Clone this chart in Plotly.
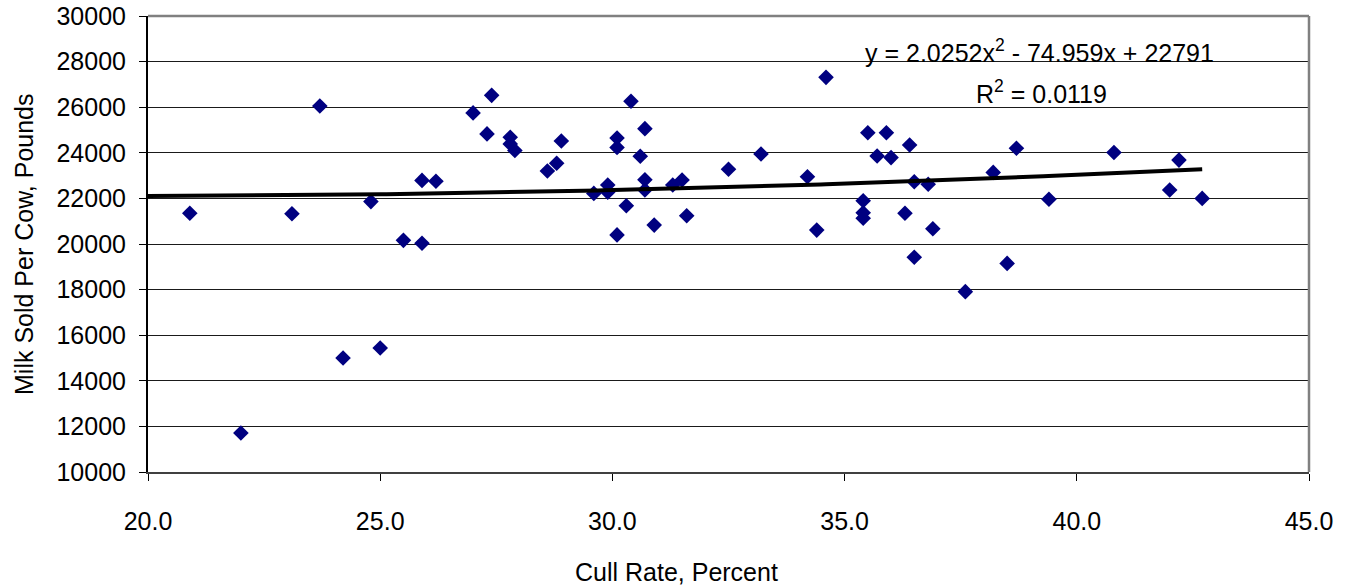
import numpy as np
import plotly.graph_objects as go

# Herd data: cull rate (%) and milk sold per cow (lb)
cull_rate = [20.9, 22.0, 23.1, 23.7, 24.2, 24.8, 25.0, 25.5, 25.9, 25.9,
             26.2, 27.0, 27.4, 27.3, 27.8, 27.8, 27.9, 28.6, 28.8, 28.9,
             29.6, 29.9, 29.9, 30.1, 30.1, 30.1, 30.3, 30.4, 30.6, 30.7,
             30.7, 30.7, 30.9, 31.3, 31.5, 31.6, 32.5, 33.2, 34.2, 34.4,
             34.6, 35.5, 35.4, 35.4, 35.4, 35.7, 35.9, 36.0, 36.3, 36.4,
             36.5, 36.5, 36.8, 36.9, 37.6, 38.2, 38.5, 38.7, 39.4, 40.8,
             42.0, 42.2, 42.7]
milk_sold = [21350, 11710, 21330, 26050, 15000, 21860, 15440, 20160, 20030, 22790,
             22750, 25750, 26520, 24830, 24680, 24390, 24100, 23200, 23540, 24520,
             22220, 22590, 22270, 20400, 24650, 24230, 21680, 26260, 23850, 25060,
             22820, 22370, 20830, 22590, 22810, 21240, 23280, 23950, 22950, 20610,
             27310, 24880, 21900, 21370, 21130, 23860, 24880, 23790, 21350, 24340,
             22730, 19420, 22620, 20670, 17910, 23140, 19150, 24200, 21960, 24010,
             22370, 23680, 22000]

# Second-order polynomial trendline coefficients and fit statistic
trend_coef = [2.0252, -74.959, 22791]
r_squared = 0.0119
trend_range = [20.0, 42.7]

x_ticks = [20, 25, 30, 35, 40, 45]
y_ticks = list(range(10000, 30001, 2000))

FONT = "Liberation Sans, Arial, sans-serif"
FS = 25

W, H = 1353, 586
ML, MR, MT, MB = 148, 44, 16, 114
PW, PH = W - ML - MR, H - MT - MB

tx = np.linspace(trend_range[0], trend_range[1], 200)
ty = np.polyval(trend_coef, tx)

fig = go.Figure()
fig.add_trace(go.Scatter(
    x=cull_rate, y=milk_sold, mode="markers",
    marker=dict(symbol="diamond", size=12, color="#000080", line=dict(width=0)),
    showlegend=False, hoverinfo="x+y",
))
fig.add_trace(go.Scatter(
    x=tx, y=ty, mode="lines",
    line=dict(color="black", width=4),
    showlegend=False, hoverinfo="skip",
))

fig.update_layout(
    width=W, height=H,
    margin=dict(l=ML, r=MR, t=MT, b=MB, autoexpand=False),
    paper_bgcolor="white", plot_bgcolor="white",
    font=dict(family=FONT, size=FS, color="black"),
    xaxis=dict(
        range=[20, 45], tickvals=x_ticks,
        ticktext=[f"{v:.1f}" for v in x_ticks],
        ticks="outside", ticklen=7, tickcolor="black", tickwidth=1,
        showline=True, linecolor="#404040", linewidth=2,
        showgrid=False, zeroline=False, ticklabelstandoff=19,
        automargin=False, tickfont=dict(size=FS),
    ),
    yaxis=dict(
        range=[10000, 30000], tickvals=y_ticks,
        ticktext=[str(v) for v in y_ticks],
        ticks="outside", ticklen=7, tickcolor="black", tickwidth=1,
        showline=True, linecolor="black", linewidth=2,
        showgrid=True, gridcolor="#1a1a1a", gridwidth=1.3,
        zeroline=False, ticklabelstandoff=8,
        automargin=False, tickfont=dict(size=FS),
    ),
    shapes=[
        # grey frame along the top and right of the plot area
        dict(type="line", xref="paper", yref="paper", x0=0, x1=1, y0=1, y1=1,
             line=dict(color="#808080", width=2.5)),
        dict(type="line", xref="paper", yref="paper", x0=1, x1=1, y0=0, y1=1,
             line=dict(color="#808080", width=2.5)),
    ],
    annotations=[
        dict(text="Cull Rate, Percent", xref="paper", yref="paper",
             x=(676 - ML) / PW, y=-(572 - (H - MB)) / PH,
             xanchor="center", yanchor="middle", showarrow=False,
             font=dict(size=FS)),
        dict(text="Milk Sold Per Cow, Pounds", xref="paper", yref="paper",
             x=-(ML - 24) / PW, y=0.5, textangle=-90,
             xanchor="center", yanchor="middle", showarrow=False,
             font=dict(size=FS)),
        dict(text="y = %.4fx<sup>2</sup> - %.3fx + %d" % (trend_coef[0], -trend_coef[1], trend_coef[2]),
             x=39.19, y=28470, xref="x", yref="y",
             xanchor="center", yanchor="middle", showarrow=False,
             font=dict(size=FS)),
        dict(text="R<sup>2</sup> = %.4f" % r_squared,
             x=39.23, y=26670, xref="x", yref="y",
             xanchor="center", yanchor="middle", showarrow=False,
             font=dict(size=FS)),
    ],
)

fig.write_html("out.html")
